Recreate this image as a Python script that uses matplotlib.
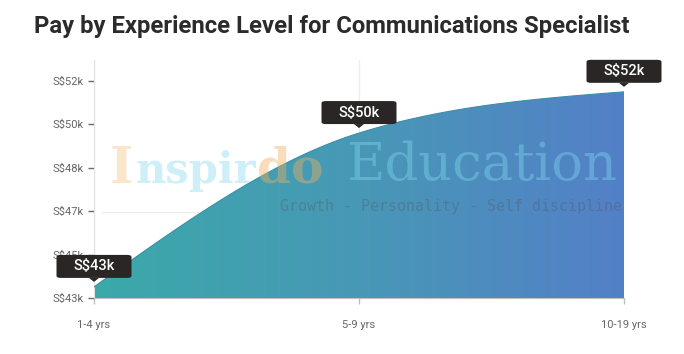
import numpy as np
import matplotlib
matplotlib.use("Agg")
import matplotlib.pyplot as plt
from matplotlib.patches import Polygon, FancyBboxPatch
from matplotlib.colors import LinearSegmentedColormap

# ---- data ----
categories = ["1-4 yrs", "5-9 yrs", "10-19 yrs"]
pay_k = [43.46, 49.84, 51.55]
tooltip_labels = ["S$43k", "S$50k", "S$52k"]
ytick_values = [43.0, 44.8, 46.6, 48.4, 50.2, 52.0]
ytick_labels = ["S$43k", "S$45k", "S$47k", "S$48k", "S$50k", "S$52k"]
title = "Pay by Experience Level for Communications Specialist"

plt.rcParams['font.family'] = ['Roboto', 'DejaVu Sans']

W, H, DPI = 684, 354, 100
fig = plt.figure(figsize=(W / DPI, H / DPI), dpi=DPI)
ax = fig.add_axes([94 / W, 1 - 298 / H, (624 - 94) / W, (298 - 60) / H])

x = np.arange(len(categories), dtype=float)
y = np.array(pay_k, dtype=float)
ymin, ymax = 43.0, 52.87
ax.set_xlim(0, len(categories) - 1)
ax.set_ylim(ymin, ymax)


# monotone cubic (d3 curveMonotoneX style) for drawing the smooth edge
def monotone_curve(xs, ys, n=60):
    h = np.diff(xs)
    s = np.diff(ys) / h
    t = np.zeros_like(ys)
    for i in range(1, len(xs) - 1):
        p = (s[i - 1] * h[i] + s[i] * h[i - 1]) / (h[i - 1] + h[i])
        t[i] = (np.sign(s[i - 1]) + np.sign(s[i])) * min(abs(s[i - 1]), abs(s[i]), 0.5 * abs(p))
    t[0] = (3 * s[0] - t[1]) / 2
    t[-1] = (3 * s[-1] - t[-2]) / 2
    X, Y = [], []
    for i in range(len(xs) - 1):
        u = np.linspace(0, 1, n, endpoint=(i == len(xs) - 2))
        h00 = 2 * u**3 - 3 * u**2 + 1
        h10 = u**3 - 2 * u**2 + u
        h01 = -2 * u**3 + 3 * u**2
        h11 = u**3 - u**2
        X.append(xs[i] + u * h[i])
        Y.append(h00 * ys[i] + h10 * h[i] * t[i] + h01 * ys[i + 1] + h11 * h[i] * t[i + 1])
    return np.concatenate(X), np.concatenate(Y)


cx, cy = monotone_curve(x, y)

# gradient fill
cmap = LinearSegmentedColormap.from_list("g", ["#3ba9a9", "#4898b6", "#5380c8"])
grad = np.linspace(0, 1, 256).reshape(1, -1)
im = ax.imshow(grad, cmap=cmap, aspect="auto", extent=[0, 2, ymin, ymax], zorder=2)
poly = Polygon(np.column_stack([np.r_[cx, cx[-1], cx[0]], np.r_[cy, ymin, ymin]]),
               closed=True, facecolor="none", edgecolor="none")
ax.add_patch(poly)
im.set_clip_path(poly)
ax.plot(cx, cy, color="#3a8fa8", lw=0.8, zorder=3)

# axes styling
for side in ["top", "right"]:
    ax.spines[side].set_visible(False)
ax.spines["left"].set_color("#e2e2e2")
ax.spines["bottom"].set_color("#bfbfbf")
ax.spines["bottom"].set_zorder(4)
ax.set_yticks(ytick_values)
ax.set_yticklabels(ytick_labels)
ax.set_xticks(x)
ax.set_xticklabels(categories)
ax.tick_params(axis="y", length=4.5, width=1, color="#6a6a6a", labelcolor="#666666",
               labelsize=8, pad=3)
ax.tick_params(axis="x", length=4.5, width=1, color="#bfbfbf", labelcolor="#666666",
               labelsize=8, pad=11)
ax.grid(axis="x", color="#eeeeee", lw=1, zorder=0)
ax.set_axisbelow(True)

# faint watermark rule (behind the area)
ax.plot([0.03, 0.45], [46.55, 46.55], color="#ececec", lw=0.8, zorder=1)

# title
fig.text(34 / W, 1 - 27 / H, title, fontsize=17.2, fontweight="bold", color="#2b2b2b",
         ha="left", va="center")

# watermark
fig.canvas.draw()
renderer = fig.canvas.get_renderer()
base = 1 - 183 / H
t_I = fig.text(110 / W, base, "I", fontsize=36, family="DejaVu Serif", fontweight="bold",
               color="#f7c27a", alpha=0.4, ha="left", va="baseline", zorder=10)
wi = t_I.get_window_extent(renderer).x1
t_n = fig.text((wi + 2) / W, base, "nspir", fontsize=30, family="DejaVu Serif", fontweight="bold",
               color="#7fd6ef", alpha=0.38, ha="left", va="baseline", zorder=10)
wn = t_n.get_window_extent(renderer).x1
fig.text((wn + 1) / W, base, "do", fontsize=35, family="DejaVu Serif", fontweight="bold",
         color="#f0b060", alpha=0.42, ha="left", va="baseline", zorder=10)
fig.text(346 / W, 1 - 180 / H, "Education", fontsize=38, family="DejaVu Serif",
         color="#7fd6ef", alpha=0.42, ha="left", va="baseline", zorder=10)
fig.text(280 / W, 1 - 206 / H, "Growth - Personality - Self discipline", fontsize=10.8,
         family="DejaVu Sans Mono", color="#555555", alpha=0.35, ha="left", va="center", zorder=10)

# tooltips
bw, bh, gap = 75, 23, 6
for xi, yi, lab in zip(x, y, tooltip_labels):
    px, py = ax.transData.transform((xi, yi))
    bottom = py + gap + 3
    box = FancyBboxPatch(((px - bw / 2) / W, bottom / H), bw / W, bh / H,
                         boxstyle="round,pad=0,rounding_size=0.006",
                         transform=fig.transFigure, facecolor="#2a2626", edgecolor="none",
                         zorder=20, clip_on=False)
    fig.add_artist(box)
    tri = Polygon([[(px - 5) / W, bottom / H], [(px + 5) / W, bottom / H],
                   [px / W, (bottom - 4) / H]], closed=True, transform=fig.transFigure,
                  facecolor="#2a2626", edgecolor="none", zorder=20)
    fig.add_artist(tri)
    fig.text(px / W, (bottom + bh / 2) / H, lab, fontsize=10.5, fontweight="medium",
             color="white", ha="center", va="center", zorder=21)

fig.savefig("out.png", dpi=DPI)
